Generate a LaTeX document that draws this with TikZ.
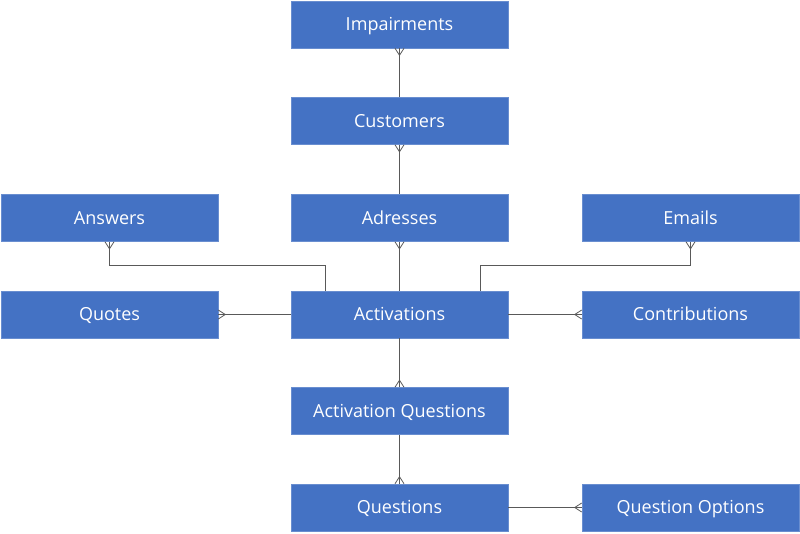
\documentclass[tikz,border=0pt]{standalone}
\usepackage{fontspec}
\setmainfont{Open Sans}
\usetikzlibrary{arrows.meta}
\definecolor{boxblue}{HTML}{4472C4}
\definecolor{linegray}{HTML}{595959}
\pgfdeclarearrow{
  name = Crow,
  setup code = {
    \pgfarrowssettipend{0pt}
    \pgfarrowssetlineend{0pt}
    \pgfarrowssetvisualbackend{-7pt}
    \pgfarrowssetbackend{-7pt}
    \pgfarrowsupperhullpoint{0pt}{4.5pt}
    \pgfarrowsupperhullpoint{-7pt}{0pt}
  },
  drawing code = {
    \pgfsetdash{}{0pt}
    \pgfpathmoveto{\pgfqpoint{0pt}{4.5pt}}
    \pgfpathlineto{\pgfqpoint{-7pt}{0pt}}
    \pgfpathlineto{\pgfqpoint{0pt}{-4.5pt}}
    \pgfusepathqstroke
  }
}
\tikzset{
  entity/.style={fill=boxblue, draw=boxblue!80!white, line width=0.6pt, text=white, minimum width=217pt, minimum height=47pt, inner sep=0pt, font=\fontsize{18}{21}\selectfont, text height=14pt, text depth=1.5pt},
  conn/.style={draw=linegray, line width=0.8pt},
  crowend/.style={conn, -Crow},
}
\begin{document}
\begin{tikzpicture}[x=1pt,y=-1pt]
\useasboundingbox (0,0) rectangle (800,533);
\node[entity] (imp) at (399.5,24.5) {Impairments};
\node[entity] (cus) at (399.5,121) {Customers};
\node[entity] (ans) at (109.5,218) {Answers};
\node[entity] (adr) at (399.5,218) {Adresses};
\node[entity] (ema) at (690.5,218) {Emails};
\node[entity] (quo) at (109.5,314.5) {Quotes};
\node[entity] (act) at (399.5,314.5) {Activations};
\node[entity] (con) at (690.5,314.5) {Contributions};
\node[entity] (aq) at (399.5,411) {Activation Questions};
\node[entity] (que) at (399.5,507.5) {Questions};
\node[entity] (qo) at (690.5,507.5) {Question Options};

\draw[crowend] (cus) -- (imp);
\draw[crowend] (adr) -- (cus);
\draw[crowend] (act) -- (adr);
\draw[crowend] (act) -- (quo);
\draw[crowend] (act) -- (con);
\draw[crowend] (act) -- (aq);
\draw[crowend] (aq) -- (que);
\draw[crowend] (que) -- (qo);
\draw[crowend] ([xshift=-74.5pt]act.north) -- ++(0,-25) -| (ans.south);
\draw[crowend] ([xshift=80.5pt]act.north) -- ++(0,-25) -| (ema.south);
\end{tikzpicture}
\end{document}
